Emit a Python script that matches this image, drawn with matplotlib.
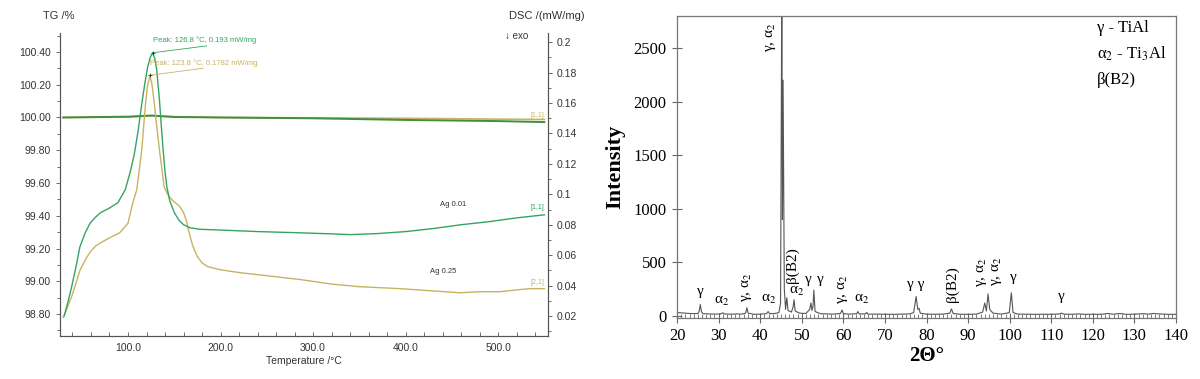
import matplotlib.pyplot as plt
import numpy as np
from matplotlib.ticker import MultipleLocator, FuncFormatter

plt.rcParams['mathtext.fontset'] = 'stix'

# ---- left panel: TG / DSC data ----
dsc_t_001 = [31, 35, 39, 44, 48, 54, 59, 65, 70, 80, 89, 97, 103, 107, 111, 115, 118, 121, 124,
             126.8, 129, 131, 134, 136, 138, 140, 142, 145, 150, 155, 160, 167, 178, 200, 240,
             280, 320, 340, 370, 400, 430, 460, 490, 520, 550]
dsc_001 = [0.020, 0.029, 0.039, 0.053, 0.0655, 0.075, 0.081, 0.085, 0.0878, 0.091, 0.0944, 0.103,
           0.116, 0.127, 0.142, 0.160, 0.172, 0.183, 0.190, 0.193, 0.189, 0.182, 0.162, 0.145,
           0.129, 0.115, 0.105, 0.096, 0.088, 0.083, 0.080, 0.078, 0.077, 0.0765, 0.0755, 0.0748,
           0.074, 0.0735, 0.0742, 0.0755, 0.0775, 0.080, 0.082, 0.0845, 0.0865]

dsc_t_025 = [30, 34, 39, 44, 48, 54, 59, 65, 70, 80, 91, 100, 105, 109.5, 112, 115, 117, 119, 121,
             123.8, 126, 128, 131, 134, 137, 139, 142, 145, 150, 156, 160, 163, 166, 170, 175, 180,
             186, 199, 221, 250, 286, 320, 350, 394, 430, 459, 480, 502, 520, 535, 550]
dsc_025 = [0.019, 0.025, 0.0327, 0.042, 0.050, 0.057, 0.062, 0.066, 0.068, 0.0714, 0.0747, 0.081,
           0.094, 0.103, 0.115, 0.130, 0.145, 0.160, 0.171, 0.178, 0.172, 0.162, 0.145, 0.129,
           0.115, 0.105, 0.101, 0.098, 0.095, 0.092, 0.088, 0.083, 0.075, 0.066, 0.059, 0.055,
           0.0525, 0.0505, 0.0485, 0.0465, 0.044, 0.041, 0.0393, 0.038, 0.0365, 0.0353, 0.036,
           0.036, 0.0372, 0.038, 0.038]

tg_t = [30, 100, 125, 150, 200, 300, 400, 500, 550]
tg_001 = [100.00, 100.005, 100.012, 100.003, 100.0, 99.995, 99.985, 99.978, 99.972]
tg_025 = [100.00, 100.003, 100.010, 100.005, 100.0, 99.998, 99.995, 99.990, 99.988]

# ---- right panel: XRD trace ----
two_theta = [20.0, 21.0, 22.0, 23.0, 24.0, 25.0, 25.3, 25.6, 25.9, 26.3, 27.5, 29.0, 30.5, 31.0,
             31.4, 33.0, 34.5, 35.5, 36.5, 36.8, 37.1, 38.5, 40.0, 41.5, 41.9, 42.3, 43.5, 44.5,
             44.9, 45.2, 45.35, 45.5, 45.8, 46.1, 46.4, 46.7, 47.5, 47.9, 48.15, 48.4, 49.5, 51.0,
             51.9, 52.2, 52.45, 52.7, 52.9, 53.2, 54.5, 56.0, 57.5, 59.3, 59.7, 60.0, 61.5, 63.2,
             63.5, 63.8, 65.3, 65.6, 65.9, 68.0, 70.0, 72.0, 74.0, 76.0, 76.9, 77.5, 77.9, 78.2,
             78.5, 80.0, 82.0, 84.0, 85.6, 86.0, 86.4, 88.0, 90.0, 92.0, 93.5, 94.0, 94.4, 94.8,
             95.2, 96.0, 98.0, 99.9, 100.4, 100.8, 102.0, 104.0, 106.0, 108.0, 110.0, 112.0, 112.5,
             113.0, 115.0, 116.5, 118.0, 120.0, 122.0, 123.5, 125.0, 126.5, 128.0, 130.0, 132.0,
             133.5, 134.5, 136.0, 138.0, 140.0]
intensity = [30, 28, 25, 22, 20, 22, 40, 105, 35, 20, 18, 16, 18, 28, 18, 15, 18, 16, 25, 75, 25,
             14, 16, 20, 40, 20, 22, 30, 120, 3200, 900, 2200, 250, 60, 170, 50, 35, 80, 150, 45,
             25, 22, 60, 120, 50, 90, 240, 40, 20, 18, 16, 22, 55, 20, 16, 20, 40, 18, 18, 32, 16,
             16, 15, 14, 16, 18, 30, 180, 60, 70, 25, 16, 15, 16, 25, 65, 22, 15, 14, 16, 35, 120,
             45, 205, 60, 25, 16, 30, 215, 30, 16, 15, 14, 15, 14, 18, 25, 16, 14, 18, 14, 15, 14,
             22, 15, 22, 14, 16, 20, 16, 22, 18, 14, 14]

# peak labels: (2theta, intensity, text, rotated)
peak_labels = [
    (42.6, 2600, 'γ, α$_2$', True),
    (25.5, 224, 'γ', False),
    (30.8, 130, 'α$_2$', False),
    (36.8, 270, 'γ, α$_2$', True),
    (42.1, 150, 'α$_2$', False),
    (47.6, 475, 'β(B2)', True),
    (48.8, 224, 'α$_2$', False),
    (51.5, 336, 'γ', False),
    (54.4, 336, 'γ', False),
    (59.9, 250, 'γ, α$_2$', True),
    (64.5, 150, 'α$_2$', False),
    (77.4, 290, 'γ γ', False),
    (86.1, 300, 'β(B2)', True),
    (93.3, 410, 'γ, α$_2$', True),
    (96.9, 420, 'γ, α$_2$', True),
    (100.8, 355, 'γ', False),
    (112.5, 180, 'γ', False),
]
phase_legend = ['γ - TiAl', 'α$_2$ - Ti$_3$Al', 'β(B2)']

green = '#35a460'
tg_green = '#3f8f3f'
yellow = '#c6b462'
axc = '#555555'
sans = ['Liberation Sans', 'DejaVu Sans']
serif = ['Liberation Serif', 'DejaVu Serif']

fig = plt.figure(figsize=(12, 3.79), dpi=100)

# ================= left panel =================
ax = fig.add_axes([0.05, 0.1135, 0.4067, 0.7995])
ax2 = ax.twinx()
ax.set_xlim(26.5, 554)
ax.set_ylim(98.666, 100.516)
ax2.set_ylim(0.0069, 0.206)

ax2.plot(dsc_t_025, dsc_025, color=yellow, lw=1.0)
ax2.plot(dsc_t_001, dsc_001, color=green, lw=1.0)
ax.plot(tg_t, tg_025, color=yellow, lw=1.2)
ax.plot(tg_t, tg_001, color=tg_green, lw=1.4)

for a in (ax, ax2):
    a.spines['top'].set_visible(False)
    for s in ('left', 'right', 'bottom'):
        a.spines[s].set_color(axc)
        a.spines[s].set_linewidth(0.8)

ax.yaxis.set_major_locator(MultipleLocator(0.2))
ax.yaxis.set_minor_locator(MultipleLocator(0.1))
ax.yaxis.set_major_formatter(FuncFormatter(lambda v, p: f'{v:.2f}'))
ax.xaxis.set_major_locator(MultipleLocator(100))
ax.xaxis.set_minor_locator(MultipleLocator(20))
ax.xaxis.set_major_formatter(FuncFormatter(lambda v, p: f'{v:.1f}'))
ax2.yaxis.set_major_locator(MultipleLocator(0.02))
ax2.yaxis.set_minor_locator(MultipleLocator(0.01))
ax2.yaxis.set_major_formatter(FuncFormatter(lambda v, p: f'{v:g}'))

ax.tick_params(axis='y', which='both', direction='out', colors=axc, labelcolor='#333333',
               labelsize=7.5, length=3, width=0.6)
ax.tick_params(axis='y', which='minor', length=2)
ax.tick_params(axis='x', which='both', direction='in', colors=axc, labelcolor='#333333',
               labelsize=7.5, length=3, width=0.6, pad=5)
ax2.tick_params(axis='y', which='both', direction='out', colors=axc, labelcolor='#333333',
                labelsize=7.5, length=3, width=0.6)
ax2.tick_params(axis='y', which='minor', length=2)
for lab in ax.get_xticklabels() + ax.get_yticklabels() + ax2.get_yticklabels():
    lab.set_family(sans)

ax.set_xlabel('Temperature /°C', fontsize=7.5, family=sans, color='#333333', labelpad=2)

fig.text(43 / 1200, 1 - 16 / 379, 'TG /%', fontsize=8, family=sans, color='#333333',
         va='center', ha='left')
fig.text(585 / 1200, 1 - 16 / 379, 'DSC /(mW/mg)', fontsize=8, family=sans, color='#333333',
         va='center', ha='right')
fig.text(505 / 1200, 1 - 36 / 379, '↓ exo', fontsize=7, family=sans, color='#333333',
         va='center', ha='left')

# peak annotations
ax2.plot([126.8, 185], [0.193, 0.1975], color=green, lw=0.6)
ax2.plot([126.8], [0.193], marker='+', ms=3, color='#333333', mew=0.6)
ax2.text(127, 0.1985, 'Peak: 126.8 °C, 0.193 mW/mg', fontsize=5.5, family=sans, color=green,
         ha='left', va='bottom')
ax2.plot([123.8, 181], [0.1782, 0.1828], color=yellow, lw=0.6)
ax2.plot([123.8], [0.1782], marker='+', ms=3, color='#333333', mew=0.6)
ax2.text(124, 0.1838, 'Peak: 123.8 °C, 0.1782 mW/mg', fontsize=5.5, family=sans, color=yellow,
         ha='left', va='bottom')

ax2.text(543, 0.152, '[1,1]', fontsize=5, family=sans, color=yellow, ha='center', va='center')
ax2.text(543, 0.091, '[1,1]', fontsize=5, family=sans, color=green, ha='center', va='center')
ax2.text(543, 0.042, '[2,1]', fontsize=5, family=sans, color=yellow, ha='center', va='center')
ax2.text(451, 0.093, 'Ag 0.01', fontsize=5.5, family=sans, color='#333333', ha='center',
         va='center')
ax2.text(441, 0.049, 'Ag 0.25', fontsize=5.5, family=sans, color='#333333', ha='center',
         va='center')

# ================= right panel =================
bx = fig.add_axes([0.5642, 0.161, 0.4158, 0.797])
bx.plot(two_theta, intensity, color='#555555', lw=0.8)
bx.set_xlim(20, 140)
bx.set_ylim(-20, 2800)
for s in bx.spines.values():
    s.set_color('#777777')
    s.set_linewidth(0.9)
bx.xaxis.set_major_locator(MultipleLocator(10))
bx.xaxis.set_minor_locator(MultipleLocator(1))
bx.yaxis.set_major_locator(MultipleLocator(500))
bx.tick_params(axis='both', which='major', direction='inout', length=7, width=0.8,
               color='#666666', labelsize=12, pad=4)
bx.tick_params(axis='x', which='minor', direction='in', length=3, width=0.6, color='#666666')
for lab in bx.get_xticklabels() + bx.get_yticklabels():
    lab.set_family(serif)

bx.set_ylabel('Intensity', fontsize=16, fontweight='bold', family=serif, labelpad=6)
bx.set_xlabel('2Θ°', fontsize=15, fontweight='bold', family=serif, labelpad=1)

for x, y, txt, rot in peak_labels:
    bx.text(x, y, txt, rotation=90 if rot else 0, fontsize=11, family=serif,
            ha='center', va='center')

for i, txt in enumerate(phase_legend):
    bx.text(0.842, 0.96 - i * 0.086, txt, transform=bx.transAxes, fontsize=12, family=serif,
            ha='left', va='center')

fig.savefig('out.png', dpi=100)
